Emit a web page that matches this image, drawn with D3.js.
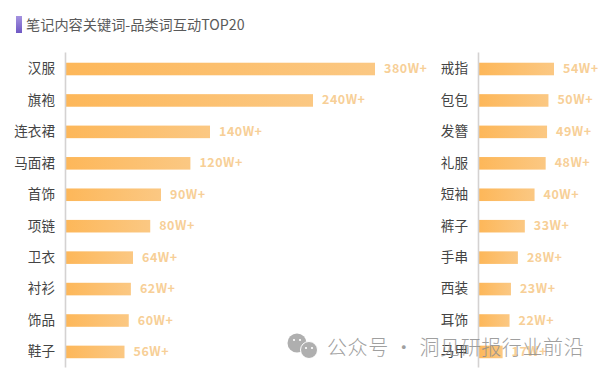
<!DOCTYPE html>
<html>
<head>
<meta charset="utf-8">
<script src="https://cdn.jsdelivr.net/npm/d3@7"></script>
<style>
  html, body { margin: 0; padding: 0; background: #fff; }
  svg { display: block; }
  text { font-family: "Noto Sans CJK SC", "Noto Sans", sans-serif; }
  .axis path { stroke: #d4d2d2; stroke-width: 1.6; }
  .axis line { display: none; }
  .axis text { font-size: 13.6px; fill: #444; }
</style>
</head>
<body>
<div id="chart"></div>
<script>
const leftNames = ['汉服', '旗袍', '连衣裙', '马面裙', '首饰', '项链', '卫衣', '衬衫', '饰品', '鞋子']
const leftValues = [380, 240, 140, 120, 90, 80, 64, 62, 60, 56]
const rightNames = ['戒指', '包包', '发簪', '礼服', '短袖', '裤子', '手串', '西装', '耳饰', '马甲']
const rightValues = [54, 50, 49, 48, 40, 33, 28, 23, 22, 17]

let width = 609
let height = 379

let svg = d3.select('#chart')
  .append('svg')
  .attr('width', width)
  .attr('height', height)

let defs = svg.append('defs')
let barGrad = defs.append('linearGradient').attr('id', 'barGrad')
barGrad.append('stop').attr('offset', '0%').attr('stop-color', '#fdb759')
barGrad.append('stop').attr('offset', '100%').attr('stop-color', '#fbc883')
let markGrad = defs.append('linearGradient').attr('id', 'markGrad')
  .attr('x1', 0).attr('x2', 0).attr('y1', 0).attr('y2', 1)
markGrad.append('stop').attr('offset', '0%').attr('stop-color', '#a593e0')
markGrad.append('stop').attr('offset', '100%').attr('stop-color', '#6f58c4')

// title
svg.append('rect')
  .attr('x', 16).attr('y', 16)
  .attr('width', 6).attr('height', 17)
  .attr('fill', 'url(#markGrad)')
svg.append('text')
  .attr('x', 26).attr('y', 30)
  .attr('font-size', 14.2)
  .attr('fill', '#5a5a5a')
  .text('笔记内容关键词-品类词互动TOP20')

// the bars in the original are not strictly to scale, so the left scale has knees
let leftX = d3.scaleLinear().domain([0, 64, 90, 140, 240, 380]).range([65, 133, 161, 210, 313, 375])
let rightX = d3.scaleLinear().domain([0, 54]).range([479, 554])

function drawPanel(names, values, x, axisX) {
  let y = d3.scaleBand()
    .domain(names)
    .range([52, 367])
    .paddingInner(0.6)
    .paddingOuter(0.31)
    .align(0.55)

  let g = svg.append('g')

  g.selectAll('rect')
    .data(values)
    .enter()
    .append('rect')
    .attr('x', x(0))
    .attr('y', (d, i) => y(names[i]))
    .attr('width', d => x(d) - x(0))
    .attr('height', y.bandwidth())
    .attr('fill', 'url(#barGrad)')

  g.selectAll('text')
    .data(values)
    .enter()
    .append('text')
    .attr('x', d => x(d) + 9)
    .attr('y', (d, i) => y(names[i]) + y.bandwidth() / 2 + 4)
    .attr('font-size', 12.5)
    .attr('font-weight', 700)
    .attr('letter-spacing', 0.5)
    .attr('fill', '#f7cf97')
    .text(d => d + 'W+')

  svg.append('g')
    .attr('class', 'axis')
    .attr('transform', 'translate(' + axisX + ', 0)')
    .call(d3.axisLeft(y).tickSize(0).tickPadding(10).tickSizeOuter(0))
}

drawPanel(leftNames, leftValues, leftX, 65)
drawPanel(rightNames, rightValues, rightX, 478)

// watermark
let mark = svg.append('g').attr('fill', '#a9a9a9').attr('opacity', 0.92)
mark.append('circle').attr('cx', 297).attr('cy', 343).attr('r', 9.5)
mark.append('circle').attr('cx', 309).attr('cy', 350).attr('r', 8.5).attr('stroke', '#fff').attr('stroke-width', 1)
let eyes = [[294, 340], [300, 340], [306, 348], [312, 348]]
mark.selectAll('.eye')
  .data(eyes)
  .enter()
  .append('circle')
  .attr('class', 'eye')
  .attr('cx', d => d[0])
  .attr('cy', d => d[1])
  .attr('r', 1.1)
  .attr('fill', '#fff')
svg.append('text')
  .attr('x', 327).attr('y', 355)
  .attr('font-size', 20)
  .attr('font-weight', 300)
  .attr('letter-spacing', 0.6)
  .attr('fill', '#8f8f8f')
  .attr('opacity', 0.85)
  .text('公众号 · 洞见研报行业前沿')
</script>
</body>
</html>
